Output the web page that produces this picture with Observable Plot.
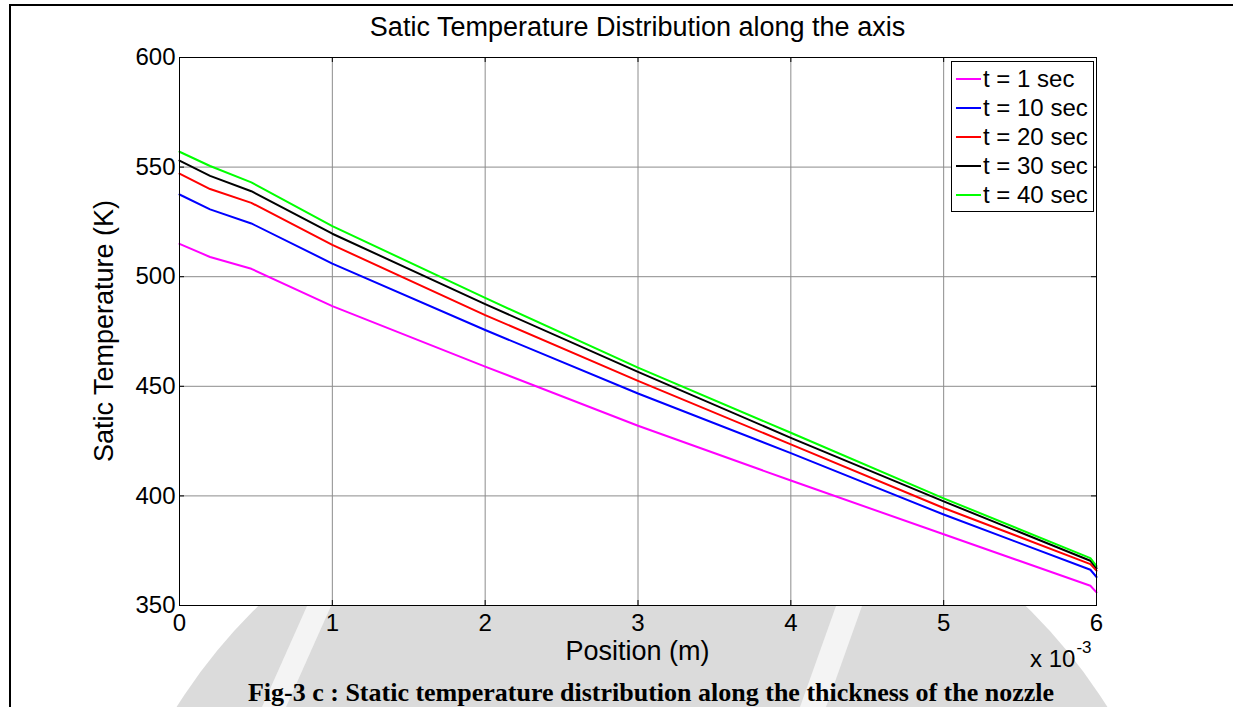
<!DOCTYPE html>
<html>
<head>
<meta charset="utf-8">
<script src="https://cdn.jsdelivr.net/npm/d3@7"></script>
<script src="https://cdn.jsdelivr.net/npm/@observablehq/plot@0.6"></script>
<style>
  html, body { margin: 0; padding: 0; background: #fff; }
  #wrap { position: relative; width: 1233px; height: 707px; overflow: hidden; font-family: Arial, "Liberation Sans", sans-serif; color: #000; background: #fff; }
  #chart { position: absolute; left: 0; top: 0; }
  #wm { position: absolute; left: 0; top: 606px; }
  .txt { position: absolute; white-space: nowrap; }
  #legend { position: absolute; left: 951px; top: 61px; width: 143px; height: 151px; border: 1px solid #000; background: #fff; box-sizing: border-box; }
  .row { position: absolute; left: 4px; height: 29px; display: flex; align-items: center; font-size: 24px; }
  .sw { width: 25px; height: 2px; margin-right: 2px; }
</style>
</head>
<body>
<div id="wrap">
  <svg id="wm" width="1233" height="101" aria-hidden="true">
    <circle cx="642" cy="394" r="550" fill="#dbdbdb"></circle>
    <path d="M307,0 L331,0 L286,101 L262,101 Z" fill="#f4f4f4"></path>
    <path d="M836,0 L862,0 L826,101 L800,101 Z" fill="#f4f4f4"></path>
  </svg>
  <div id="chart"></div>
</div>
<script>
// Position along the axis, in units of 10^-3 m
const positions = [0, 0.2, 0.47, 1, 2, 3, 4, 5, 5.96, 6];
const seriesNames = ["t = 1 sec", "t = 10 sec", "t = 20 sec", "t = 30 sec", "t = 40 sec"];
const seriesColors = ["#ff00ff", "#0000ff", "#ff0000", "#000000", "#00ff00"];
const temp1 = [515, 509, 503.6, 486.6, 459, 432, 407, 382.5, 359, 356];
const temp10 = [537.5, 530.7, 524.3, 506, 475.7, 446.7, 419.5, 391.5, 366.3, 363];
const temp20 = [547, 540, 533.7, 514.5, 482.5, 452.5, 423.5, 394.5, 368.9, 365.9];
const temp30 = [553, 546, 539, 519.6, 487.5, 456.6, 426.5, 397.5, 370.4, 367];
const temp40 = [557, 550.5, 543, 523.1, 490.3, 458.5, 428.8, 398.9, 371.6, 368];
const xTicks = [0, 1, 2, 3, 4, 5, 6];
const yTicks = [350, 400, 450, 500, 550, 600];
const titleText = "Satic Temperature Distribution along the axis";
const xLabel = "Position (m)";
const yLabel = "Satic Temperature (K)";
const captionText = "Fig-3 c : Static temperature distribution along the thickness of the nozzle";

const allSeries = [temp1, temp10, temp20, temp30, temp40];
const rows = [];
allSeries.forEach((vals, i) => vals.forEach((v, j) => rows.push({series: seriesNames[i], x: positions[j], y: v})));

const W = 1233, H = 707, mL = 179, mR = 137, mT = 57, mB = 102;
const innerW = W - mL - mR, innerH = H - mT - mB;

const chart = Plot.plot({
  width: W, height: H,
  marginLeft: mL, marginRight: mR, marginTop: mT, marginBottom: mB,
  x: {domain: [0, 6], ticks: xTicks},
  y: {domain: [350, 600], ticks: yTicks},
  color: {domain: seriesNames, range: seriesColors},
  style: {fontFamily: "Arial, 'Liberation Sans', sans-serif", fontSize: "24px", color: "#000", background: "transparent", overflow: "visible"},
  marks: [
    Plot.frame({fill: "#fff", stroke: null}),
    Plot.gridX(xTicks, {stroke: "#8c8c8c", strokeOpacity: 1, strokeWidth: 1}),
    Plot.gridY(yTicks, {stroke: "#8c8c8c", strokeOpacity: 1, strokeWidth: 1}),
    Plot.tickX(xTicks, {x: d => d, stroke: "#000", insetTop: innerH - 5}),
    Plot.tickX(xTicks, {x: d => d, stroke: "#000", insetBottom: innerH - 5}),
    Plot.tickY(yTicks, {y: d => d, stroke: "#000", insetRight: innerW - 5}),
    Plot.tickY(yTicks, {y: d => d, stroke: "#000", insetLeft: innerW - 5}),
    Plot.line(rows, {x: "x", y: "y", z: "series", stroke: "series", strokeWidth: 2}),
    Plot.frame({stroke: "#000", strokeWidth: 1}),
    Plot.axisX(xTicks, {tickSize: 0, tickPadding: 8, label: null, fontSize: 24, tickFormat: d3.format("d")}),
    Plot.axisY(yTicks, {tickSize: 0, tickPadding: 4, label: null, fontSize: 24, tickFormat: d3.format("d")})
  ]
});
document.getElementById("chart").appendChild(chart);

const wrap = document.getElementById("wrap");
function addText(text, css) {
  const d = document.createElement("div");
  d.className = "txt";
  d.textContent = text;
  Object.assign(d.style, css);
  wrap.appendChild(d);
  return d;
}
// outer document frame (left and top)
const fl = document.createElement("div");
Object.assign(fl.style, {position: "absolute", left: "9px", top: "4px", width: "2px", height: "703px", background: "#000"});
wrap.appendChild(fl);
const ft = document.createElement("div");
Object.assign(ft.style, {position: "absolute", left: "9px", top: "4px", width: "1224px", height: "2px", background: "#000"});
wrap.appendChild(ft);

addText(titleText, {left: (mL + innerW / 2) + "px", top: "12px", transform: "translateX(-50%)", fontSize: "27px"});
addText(xLabel, {left: (mL + innerW / 2) + "px", top: "636px", transform: "translateX(-50%)", fontSize: "27px"});
addText(yLabel, {left: "104px", top: (mT + innerH / 2) + "px", transform: "translate(-50%, -50%) rotate(-90deg)", fontSize: "27px"});
const sci = document.createElement("div");
sci.className = "txt";
sci.innerHTML = "x 10<sup style='font-size:17px;position:relative;top:-5px;margin-left:1px'>-3</sup>";
Object.assign(sci.style, {left: "1030px", top: "643px", fontSize: "24px", lineHeight: "normal"});
wrap.appendChild(sci);
addText(captionText, {left: "651px", top: "678px", transform: "translateX(-50%)", fontSize: "26px", fontWeight: "bold", fontFamily: "'Liberation Serif', 'Times New Roman', serif"});

// legend
const lg = document.createElement("div");
lg.id = "legend";
seriesNames.forEach((name, i) => {
  const r = document.createElement("div");
  r.className = "row";
  r.style.top = (2 + i * 29) + "px";
  const sw = document.createElement("div");
  sw.className = "sw";
  sw.style.background = seriesColors[i];
  r.appendChild(sw);
  const t = document.createElement("span");
  t.textContent = name;
  r.appendChild(t);
  lg.appendChild(r);
});
wrap.appendChild(lg);
</script>
</body>
</html>
